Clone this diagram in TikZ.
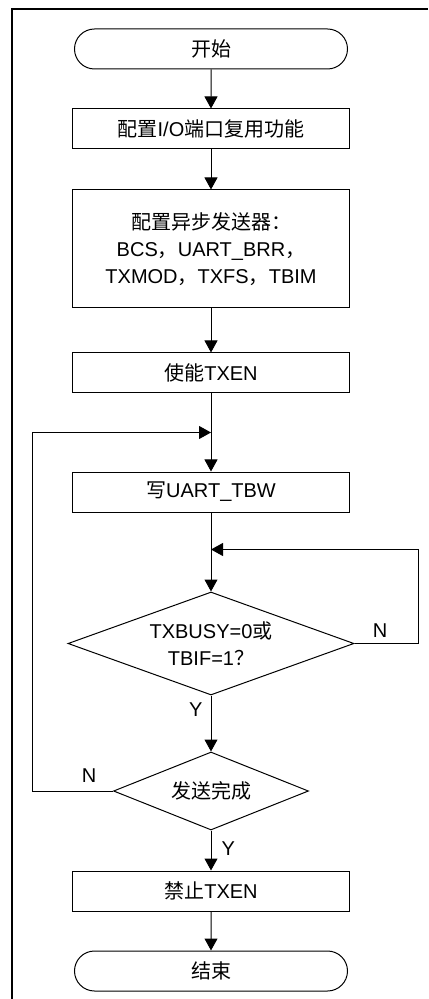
\documentclass[tikz,border=0pt]{standalone}
\usepackage{fontspec}
\setmainfont{Liberation Sans}
\newfontfamily\cjk{Noto Sans CJK SC}
\usetikzlibrary{positioning,arrows.meta,shapes.geometric,shapes.misc}
\newcommand{\zh}[1]{{\cjk #1}}
\tikzset{
  >={Triangle[length=6pt,width=6.5pt]},
  termbox/.style={draw,rounded rectangle,minimum width=138.5pt,minimum height=20pt,
    inner sep=1pt,line width=0.5pt,font=\fontsize{10}{13.5}\selectfont},
  procbox/.style={draw,rectangle,minimum width=138.5pt,minimum height=20pt,
    inner sep=1pt,line width=0.5pt,align=center,font=\fontsize{10}{13.5}\selectfont},
  decbox/.style={draw,diamond,aspect=2.78,inner sep=-3pt,line width=0.5pt,align=center,
    font=\fontsize{10}{13.5}\selectfont},
  flow/.style={->,line width=0.5pt},
  ynlbl/.style={font=\fontsize{10}{12}\selectfont,inner sep=1pt},
  frameline/.style={line width=1pt},
}
\begin{document}
\begin{tikzpicture}
  \useasboundingbox (-105.5pt,24.5pt) rectangle (108.5pt,-475pt);
  % frame
  \draw[frameline] (-99.5pt,-475pt) -- (-99.5pt,20pt) -- (108.5pt,20pt);
  \node[termbox] (start) at (0,0) {\zh{开始}};
  \node[procbox,below=19.5pt of start] (ioconf) {\zh{配置}I/O\zh{端口复用功能}};
  \node[procbox,below=20pt of ioconf,minimum height=59pt] (txconf)
    {\zh{配置异步发送器：}\\BCS\zh{，}UART\_BRR\zh{，}\\TXMOD\zh{，}TXFS\zh{，}TBIM};
  \node[procbox,below=22pt of txconf] (txen) {\zh{使能}TXEN};
  \node[procbox,below=39pt of txen] (wrtbw) {\zh{写}UART\_TBW};
  \node[decbox,below=39.5pt of wrtbw,minimum width=143pt,minimum height=51.5pt] (busy)
    {TXBUSY=0\zh{或}\\TBIF=1\zh{？}};
  \node[decbox,below=28pt of busy,minimum width=97.5pt,minimum height=39pt] (done)
    {\zh{发送完成}};
  \node[procbox,below=20pt of done] (txdis) {\zh{禁止}TXEN};
  \node[termbox,below=19.5pt of txdis] (stop) {\zh{结束}};
  \coordinate[below=19.5pt of txen.south] (j2);
  \coordinate[below=18.5pt of wrtbw.south] (j1);
  \draw[flow] (start) -- (ioconf);
  \draw[flow] (ioconf) -- (txconf);
  \draw[flow] (txconf) -- (txen);
  \draw[flow] (txen) -- (wrtbw);
  \draw[flow] (wrtbw) -- (busy);
  \draw[flow] (busy) -- node[ynlbl,left=3pt,pos=0.25] {Y} (done);
  \draw[flow] (done) -- node[ynlbl,right=4pt,pos=0.45] {Y} (txdis);
  \draw[flow] (txdis) -- (stop);
  \draw[flow] (busy.east) -- node[ynlbl,above=2pt,pos=0.4] {N} ++(32pt,0) |- (j1);
  \draw[flow] (done.west) -- node[ynlbl,above=3pt,pos=0.3] {N} ++(-40pt,0) |- (j2);
\end{tikzpicture}
\end{document}
